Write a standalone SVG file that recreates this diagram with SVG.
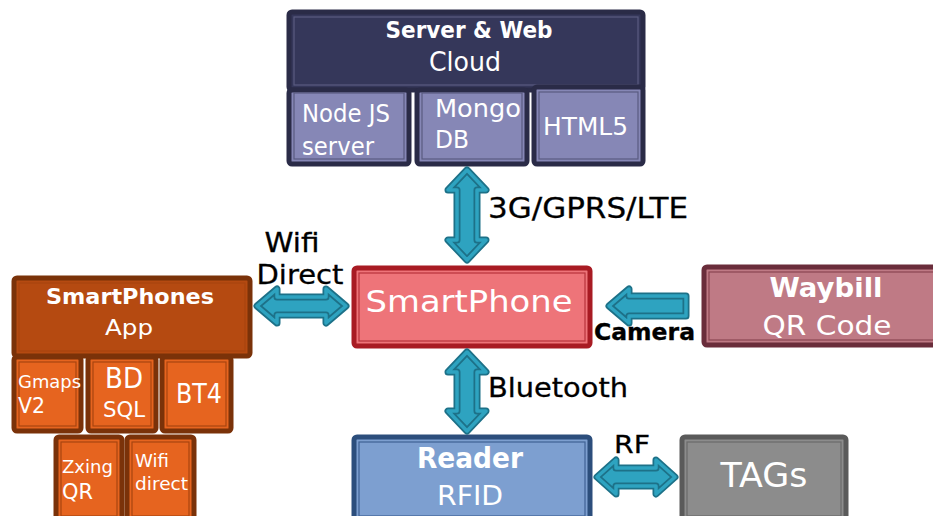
<svg xmlns="http://www.w3.org/2000/svg" width="933" height="516" viewBox="0 0 933 516">
  <style>
    text { font-family: "DejaVu Sans", "Liberation Sans", sans-serif; }
    .w { fill: #ffffff; }
    .k { fill: #000000; stroke: #000000; stroke-width: 0.3; }
    .b { font-weight: bold; }
    .c { text-anchor: middle; }
    .inner { fill: none; stroke-width: 1.2; }
    .srv { fill: #35375a; stroke: #2a2b47; stroke-width: 5; }
    .srvsub { fill: #8687b6; stroke: #2a2b47; stroke-width: 5; }
    .srvin { stroke: #5a5b80; }
    .app { fill: #b54a11; stroke: #7a3209; stroke-width: 5; }
    .appsub { fill: #e6641f; stroke: #7a3209; stroke-width: 5; }
    .appin { stroke: #a8450f; }
    .phone { fill: #ee7479; stroke: #a81b23; stroke-width: 5; }
    .phonein { stroke: #b8333b; }
    .way { fill: #bf7a85; stroke: #6a2d3b; stroke-width: 5; }
    .wayin { stroke: #8a4552; }
    .rdr { fill: #7d9fd0; stroke: #2c4e7c; stroke-width: 5; }
    .rdrin { stroke: #3f6294; }
    .tag { fill: #8c8c8c; stroke: #5a5a5a; stroke-width: 5; }
    .tagin { stroke: #6a6a6a; }
    .arrow-out { fill: #2ea3c0; stroke: #1d7188; stroke-width: 7; stroke-linejoin: round; }
    .arrow-mid { fill: none; stroke: #2ea3c0; stroke-width: 3.5; stroke-linejoin: round; }
  </style>

  <!-- Server & Web cloud -->
  <g id="server-web">
    <rect class="srv" x="289" y="12" width="354" height="78" rx="3"/>
    <rect class="inner srvin" x="294" y="17" width="344" height="68"/>
    <text class="w b c" x="469" y="38" font-size="23" textLength="167" lengthAdjust="spacingAndGlyphs">Server &amp; Web</text>
    <text class="w c" x="465" y="71" font-size="26" textLength="72" lengthAdjust="spacingAndGlyphs">Cloud</text>
  </g>
  <g id="nodejs">
    <rect class="srvsub" x="289" y="90" width="120" height="74" rx="3"/>
    <rect class="inner srvin" x="294" y="93" width="110" height="66"/>
    <text class="w" x="302" y="122" font-size="24" textLength="88" lengthAdjust="spacingAndGlyphs">Node JS</text>
    <text class="w" x="302" y="155" font-size="24" textLength="72" lengthAdjust="spacingAndGlyphs">server</text>
  </g>
  <g id="mongodb">
    <rect class="srvsub" x="417" y="90" width="110" height="74" rx="3"/>
    <rect class="inner srvin" x="422" y="93" width="100" height="66"/>
    <text class="w" x="435" y="117" font-size="25" textLength="86" lengthAdjust="spacingAndGlyphs">Mongo</text>
    <text class="w" x="435" y="148" font-size="25" textLength="34" lengthAdjust="spacingAndGlyphs">DB</text>
  </g>
  <g id="html5">
    <rect class="srvsub" x="534" y="87" width="109" height="77" rx="3"/>
    <rect class="inner srvin" x="539" y="92" width="99" height="67"/>
    <text class="w" x="543" y="135" font-size="25" textLength="85" lengthAdjust="spacingAndGlyphs">HTML5</text>
  </g>

  <!-- SmartPhones App -->
  <g id="smartphones-app">
    <rect class="app" x="14" y="278" width="236" height="78" rx="3"/>
    <rect class="inner appin" x="19" y="283" width="226" height="68"/>
    <text class="w b c" x="130" y="304" font-size="22" textLength="168" lengthAdjust="spacingAndGlyphs">SmartPhones</text>
    <text class="w c" x="129" y="335" font-size="22" textLength="48" lengthAdjust="spacingAndGlyphs">App</text>
  </g>
  <g id="gmaps">
    <rect class="appsub" x="14" y="357" width="67" height="74" rx="3"/>
    <rect class="inner appin" x="19" y="362" width="57" height="64"/>
    <text class="w" x="18" y="388" font-size="18" textLength="63" lengthAdjust="spacingAndGlyphs">Gmaps</text>
    <text class="w" x="18" y="413" font-size="21" textLength="27" lengthAdjust="spacingAndGlyphs">V2</text>
  </g>
  <g id="bd-sql">
    <rect class="appsub" x="88" y="357" width="68" height="74" rx="3"/>
    <rect class="inner appin" x="93" y="362" width="58" height="64"/>
    <text class="w c" x="124" y="388" font-size="29" textLength="38" lengthAdjust="spacingAndGlyphs">BD</text>
    <text class="w c" x="124" y="417" font-size="21" textLength="42" lengthAdjust="spacingAndGlyphs">SQL</text>
  </g>
  <g id="bt4">
    <rect class="appsub" x="162" y="357" width="69" height="74" rx="3"/>
    <rect class="inner appin" x="167" y="362" width="59" height="64"/>
    <text class="w c" x="199" y="403" font-size="26" textLength="46" lengthAdjust="spacingAndGlyphs">BT4</text>
  </g>
  <g id="zxing-qr">
    <rect class="appsub" x="56" y="437" width="66" height="82" rx="3"/>
    <rect class="inner appin" x="61" y="442" width="56" height="74"/>
    <text class="w" x="62" y="473" font-size="18" textLength="51" lengthAdjust="spacingAndGlyphs">Zxing</text>
    <text class="w" x="62" y="499" font-size="22" textLength="31" lengthAdjust="spacingAndGlyphs">QR</text>
  </g>
  <g id="wifi-direct">
    <rect class="appsub" x="127" y="437" width="67" height="82" rx="3"/>
    <rect class="inner appin" x="132" y="442" width="57" height="74"/>
    <text class="w" x="135" y="467" font-size="17" textLength="34" lengthAdjust="spacingAndGlyphs">Wifi</text>
    <text class="w" x="135" y="490" font-size="18" textLength="53" lengthAdjust="spacingAndGlyphs">direct</text>
  </g>

  <!-- SmartPhone -->
  <g id="smartphone">
    <rect class="phone" x="354" y="268" width="236" height="78" rx="3"/>
    <rect class="inner phonein" x="359" y="273" width="226" height="68"/>
    <text class="w c" x="469" y="312" font-size="30" textLength="207" lengthAdjust="spacingAndGlyphs">SmartPhone</text>
  </g>

  <!-- Waybill QR Code -->
  <g id="waybill">
    <rect class="way" x="704" y="267" width="240" height="78" rx="3"/>
    <rect class="inner wayin" x="709" y="272" width="230" height="68"/>
    <text class="w b c" x="826" y="297" font-size="27" textLength="113" lengthAdjust="spacingAndGlyphs">Waybill</text>
    <text class="w c" x="827" y="335" font-size="27" textLength="129" lengthAdjust="spacingAndGlyphs">QR Code</text>
  </g>

  <!-- Reader RFID -->
  <g id="reader-rfid">
    <rect class="rdr" x="354" y="437" width="236" height="82" rx="3"/>
    <rect class="inner rdrin" x="359" y="442" width="226" height="74"/>
    <text class="w b c" x="470" y="468" font-size="28" textLength="106" lengthAdjust="spacingAndGlyphs">Reader</text>
    <text class="w c" x="470" y="505" font-size="27" textLength="66" lengthAdjust="spacingAndGlyphs">RFID</text>
  </g>

  <!-- TAGs -->
  <g id="tags">
    <rect class="tag" x="682" y="437" width="164" height="82" rx="3"/>
    <rect class="inner tagin" x="687" y="442" width="154" height="74"/>
    <text class="w c" x="764" y="487" font-size="33" textLength="87" lengthAdjust="spacingAndGlyphs">TAGs</text>
  </g>

  <!-- Connectors -->
  <g id="connectors">
    <defs>
      <path id="a-cloud" d="M467,170 L486,190 L477,190 L477,240 L486,240 L467,260 L448,240 L457,240 L457,190 L448,190 Z"/>
      <path id="a-bt" d="M467,352 L486,372 L477,372 L477,411 L486,411 L467,431 L448,411 L457,411 L457,372 L448,372 Z"/>
      <path id="a-wifi" d="M257,306 L277,289 L277,297 L326,297 L326,289 L346,306 L326,323 L326,315 L277,315 L277,323 Z"/>
      <path id="a-cam" d="M609,306 L629,289 L629,296 L686,296 L686,316 L629,316 L629,323 Z"/>
      <path id="a-rf" d="M597,477 L616,460 L616,468 L656,468 L656,460 L675,477 L656,494 L656,486 L616,486 L616,494 Z"/>
    </defs>
    <use href="#a-cloud" class="arrow-out"/><use href="#a-cloud" class="arrow-mid"/>
    <use href="#a-bt" class="arrow-out"/><use href="#a-bt" class="arrow-mid"/>
    <use href="#a-wifi" class="arrow-out"/><use href="#a-wifi" class="arrow-mid"/>
    <use href="#a-cam" class="arrow-out"/><use href="#a-cam" class="arrow-mid"/>
    <use href="#a-rf" class="arrow-out"/><use href="#a-rf" class="arrow-mid"/>

    <text class="k" x="488" y="218" font-size="28" textLength="200" lengthAdjust="spacingAndGlyphs">3G/GPRS/LTE</text>
    <text class="k" x="488" y="397" font-size="26" textLength="140" lengthAdjust="spacingAndGlyphs">Bluetooth</text>
    <text class="k c" x="292" y="252" font-size="26" textLength="55" lengthAdjust="spacingAndGlyphs">Wifi</text>
    <text class="k c" x="300" y="284" font-size="26" textLength="87" lengthAdjust="spacingAndGlyphs">Direct</text>
    <text class="k b" x="594" y="340" font-size="23" textLength="101" lengthAdjust="spacingAndGlyphs">Camera</text>
    <text class="k" x="614" y="453" font-size="25" textLength="36" lengthAdjust="spacingAndGlyphs">RF</text>
  </g>
</svg>
